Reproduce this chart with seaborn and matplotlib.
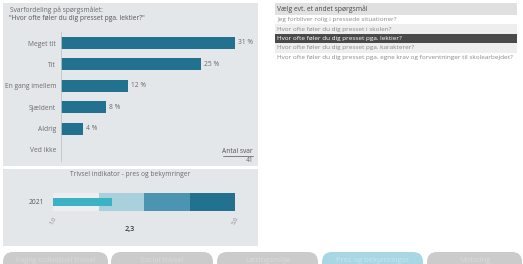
import matplotlib
matplotlib.use("Agg")
import matplotlib.pyplot as plt
from matplotlib.patches import Rectangle, FancyBboxPatch
import seaborn as sns
import pandas as pd

# svarfordeling
categories = ["Meget tit", "Tit", "En gang imellem", "Sjældent", "Aldrig", "Ved ikke"]
percent = [31, 25, 12, 8, 4, 0]
antal_svar = 41

# trivsel indikator
gauge_year = "2021"
gauge_value = 2.3
band_edges = [1, 2, 3, 4, 5]
band_colors = ["#eceef0", "#a9d1dd", "#4b95b0", "#22718f"]

questions = [
    "Jeg forbliver rolig i pressede situationer?",
    "Hvor ofte føler du dig presset i skolen?",
    "Hvor ofte føler du dig presset pga. lektier?",
    "Hvor ofte føler du dig presset pga. karakterer?",
    "Hvor ofte føler du dig presset pga. egne krav og forventninger til skolearbejdet?",
]
selected = 2
buttons = ["Faglig individuel trivsel", "Social trivsel", "Læringsmiljø",
           "Pres og bekymringer", "Mobning"]
active_button = 3

sns.set_theme(style="white")
plt.rcParams["font.family"] = ["Open Sans", "DejaVu Sans"]

W, H = 523, 264
fig = plt.figure(figsize=(W / 100, H / 100), dpi=100)
fig.patch.set_facecolor("white")

# background canvas in pixel coords
bg = fig.add_axes([0, 0, 1, 1], zorder=0)
bg.set_xlim(0, W)
bg.set_ylim(H, 0)
bg.axis("off")

panel = "#e4e7ea"
bg.add_patch(Rectangle((3, 3), 255, 163, color=panel, lw=0))
bg.add_patch(Rectangle((3, 169), 255, 77, color=panel, lw=0))

txt = "#6b6b6b"
fs = 4.8
bg.text(10, 10, "Svarfordeling på spørgsmålet:", fontsize=fs, color=txt, va="center")
bg.text(9, 18.5, "\"Hvor ofte føler du dig presset pga. lektier?\"", fontsize=fs,
        color="#555555", va="center")
bg.text(253, 151.5, "Antal svar", fontsize=fs, color="#555555", ha="right", va="center")
bg.plot([223, 253], [155.5, 155.5], color="#555555", lw=0.5)
bg.text(253, 160.5, str(antal_svar), fontsize=fs, color=txt, ha="right", va="center")

bg.text(130, 175, "Trivsel indikator - pres og bekymringer", fontsize=fs, color=txt,
        ha="center", va="center")
bg.text(44, 202, gauge_year, fontsize=fs, color="#555555", ha="right", va="center")
bg.text(130, 229, f"{gauge_value:.1f}".replace(".", ","), fontsize=5.2, color="#3a3a3a",
        ha="center", va="center", fontweight="semibold")

# question list
bg.add_patch(Rectangle((275, 3), 242, 12, color="#e0e0e0", lw=0))
bg.text(277, 9, "Vælg evt. et andet spørgsmål", fontsize=4.9, color="#4a4a4a", va="center")
row_bg = ["white", "#eeeeee", "#4a4a4a", "#eeeeee", "white"]
for i, q in enumerate(questions):
    y0 = 15 + i * 9.4
    bg.add_patch(Rectangle((275, y0), 242, 9.4, color=row_bg[i], lw=0))
    bg.text(277, y0 + 4.7, q, fontsize=4.55, va="center",
            color="white" if i == selected else "#8a8a8a")

# buttons
bx = [(3, 108), (111, 213), (217, 318), (322, 423), (427, 522)]
for i, (b, (x0, x1)) in enumerate(zip(buttons, bx)):
    col = "#a8d6e3" if i == active_button else "#cbcbcb"
    tcol = "#c6e6ef" if i == active_button else "#dadada"
    bg.add_patch(FancyBboxPatch((x0, 252), x1 - x0, 30,
                                boxstyle="round,pad=0,rounding_size=10",
                                fc=col, ec="none"))
    bg.text((x0 + x1) / 2, 261, b, fontsize=5.5, color=tcol, ha="center", va="center")

# bar chart
def fax(x0, y0, x1, y1):
    return [x0 / W, 1 - y1 / H, (x1 - x0) / W, (y1 - y0) / H]

ax = fig.add_axes(fax(61, 32.3, 250, 160.7), zorder=1)
ax.set_facecolor("none")
df = pd.DataFrame({"kategori": categories, "procent": percent})
sns.barplot(data=df, x="procent", y="kategori", color="#22718f", saturation=1,
            width=0.56, linewidth=0, ax=ax)
ax.set_xlim(0, 31 * 189 / 174)
ax.set_ylim(5.5, -0.5)
ax.set_xlabel("")
ax.set_ylabel("")
ax.set_xticks([])
for s in ["top", "right", "bottom"]:
    ax.spines[s].set_visible(False)
ax.spines["left"].set_color("#bfc3c7")
ax.spines["left"].set_linewidth(0.6)
ax.tick_params(axis="y", length=0, pad=3.5, labelsize=fs, labelcolor=txt)
for i, p in enumerate(percent):
    if p > 0:
        ax.text(p + 0.5, i, f"{p} %", fontsize=fs, color=txt, va="center")

# gauge
gx = fig.add_axes(fax(53, 193, 235, 211), zorder=1)
gx.set_facecolor("none")
for lo, hi, c in zip(band_edges[:-1], band_edges[1:], band_colors):
    gx.barh(0, hi - lo, left=lo, height=1, color=c, lw=0)
gx.barh(0, gauge_value - band_edges[0], left=band_edges[0], height=0.39,
        color="#3cb3c4", lw=0)
gx.set_xlim(band_edges[0], band_edges[-1])
gx.set_ylim(-0.5, 0.5)
gx.axis("off")
for v in (band_edges[0], band_edges[-1]):
    gx.text(v, -0.75, f"{v:.1f}".replace(".", ","), fontsize=4.2, color="#8a8a8a",
            rotation=60, ha="center", va="top")

fig.savefig("out.png", dpi=100)
